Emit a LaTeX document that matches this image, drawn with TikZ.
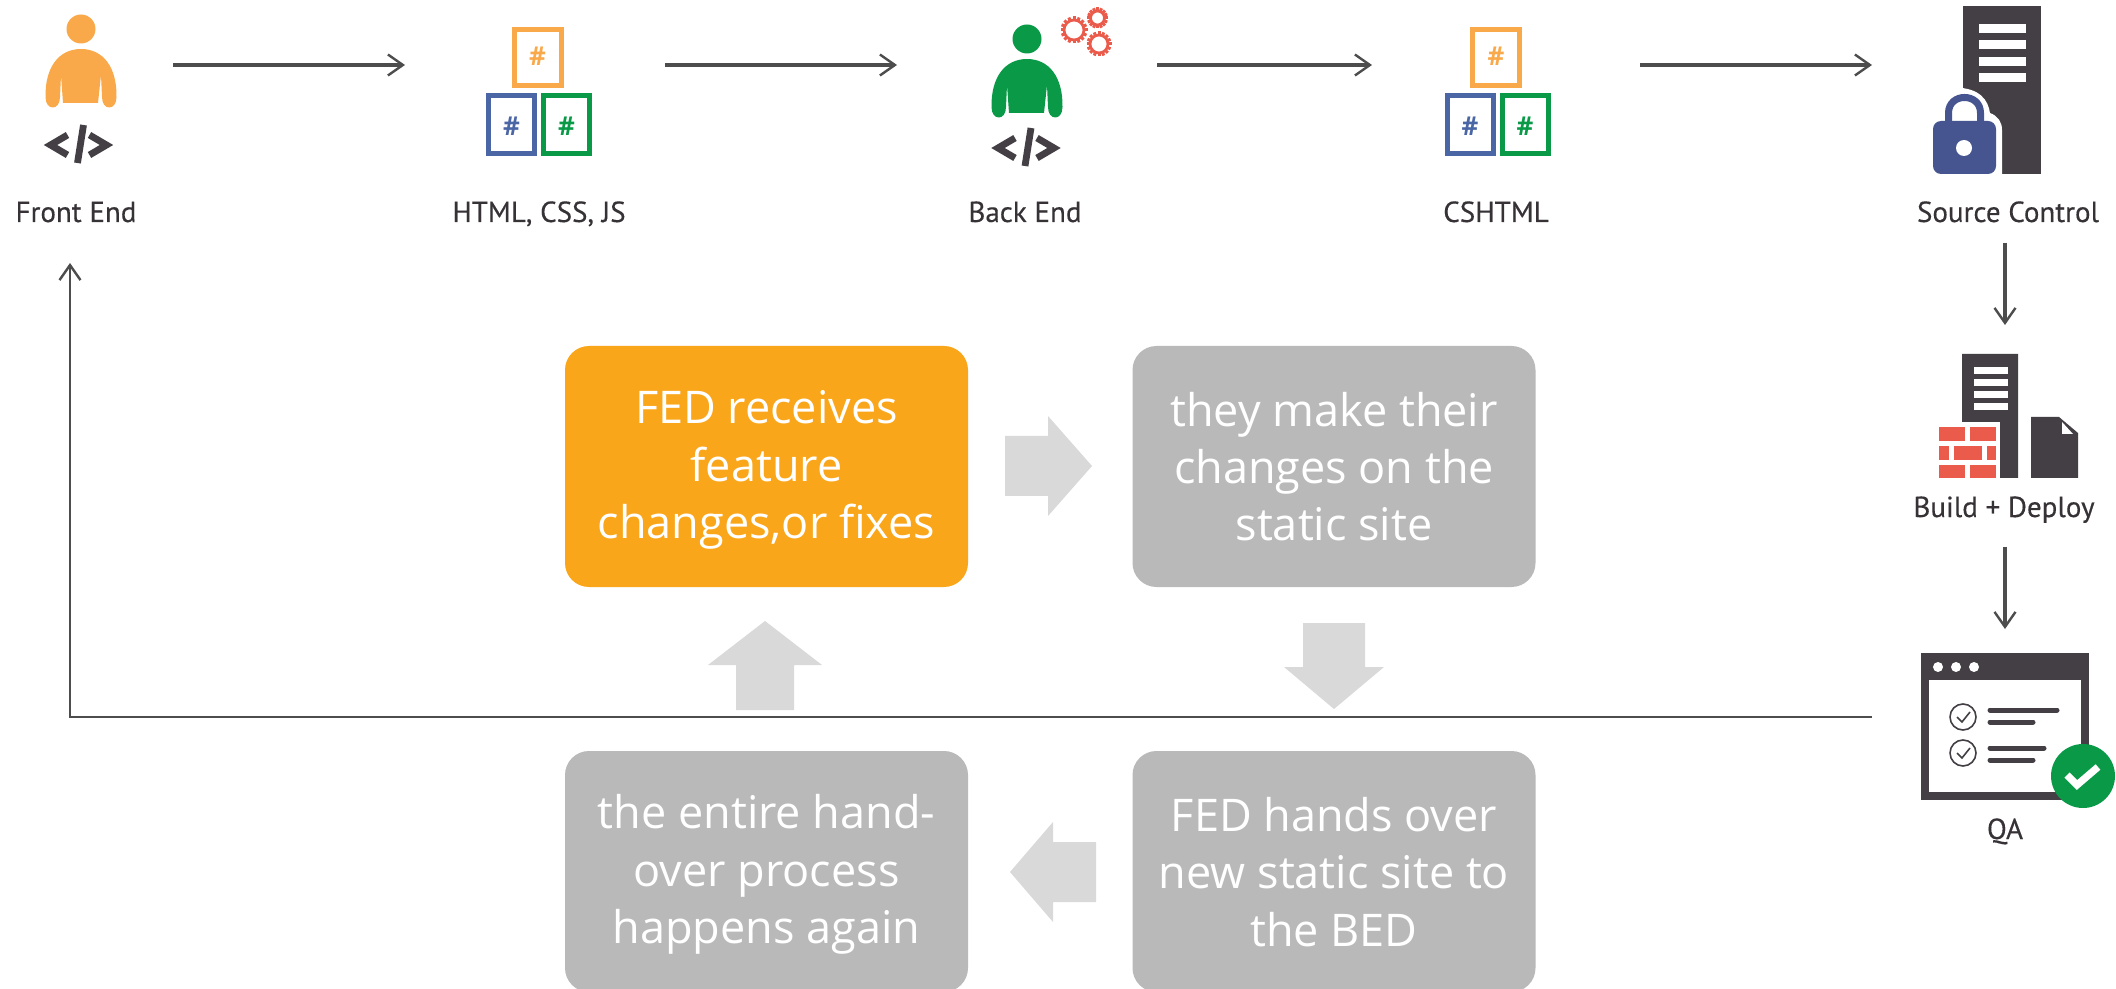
\documentclass[tikz,border=0pt]{standalone}
\usepackage{fontspec}
\setmainfont{Open Sans}
\newfontfamily\labelfont[FakeBold=0.3]{PT Sans}
\usetikzlibrary{arrows.meta}
\newcommand{\stepstrut}{\rule[-3pt]{0pt}{23pt}}
\definecolor{icdark}{HTML}{433F44}
\definecolor{icorange}{HTML}{F9A94A}
\definecolor{icblue}{HTML}{46558F}
\definecolor{icfile}{HTML}{4A66A5}
\definecolor{icgreen}{HTML}{0A9A47}
\definecolor{icred}{HTML}{EB5B4C}
\definecolor{boxorange}{HTML}{FAA61A}
\definecolor{boxgray}{HTML}{B9B9B9}
\definecolor{blockgray}{HTML}{D9D9D9}
\definecolor{flowgray}{HTML}{4D4D4D}
\tikzset{
  flow/.style={draw=flowgray,line width=1.6pt,-{Straight Barb[length=7.5pt,width=10.5pt,line width=1.2pt]}},
  stepbox/.style={rounded corners=12pt,minimum width=201.5pt,minimum height=120.5pt,inner sep=0pt,
    text=white,align=center,font=\fontsize{22.5}{28.75}\selectfont},
  iconlabel/.style={font=\labelfont\fontsize{14.5}{17}\selectfont,text=icdark!80!black,anchor=base,inner sep=0pt},
  blockarrow/.style={fill=blockgray,draw=none},
  hashmark/.style={font=\bfseries\fontsize{13}{14}\selectfont,inner sep=0pt},
  pics/personicon/.style={code={
    \fill[#1] (0,0) ellipse [x radius=14.5,y radius=14.5];
    \fill[#1] (-35.5,68) .. controls (-36,38) and (-22,20) .. (0,20)
      .. controls (22,20) and (36,38) .. (35.5,68)
      .. controls (35.5,82) and (21,82) .. (21,68) -- (20,46) -- (17,74) -- (-18,74) -- (-20,46) -- (-21,68)
      .. controls (-21,82) and (-35.5,82) .. (-35.5,68) -- cycle;
  }},
  pics/codeicon/.style={code={
    \draw[icdark,line width=3.4pt] (-11,-10) -- (-28,0) -- (-11,10);
    \draw[icdark,line width=3.4pt] (11,-10) -- (28,0) -- (11,10);
    \draw[icdark,line width=3.4pt] (-1,18) -- (5,-20);
  }},
  pics/trioicon/.style={code={
    \draw[icorange,line width=2.5pt] (-23.5,2.5) rectangle (23.5,58.5);
    \draw[icfile,line width=2.5pt] (-49,68.5) rectangle (-3,126.5);
    \draw[icgreen,line width=2.5pt] (6,68.5) rectangle (52,126.5);
    \node[hashmark,text=icorange] (top) at (0,29) {\#};
    \node[hashmark,text=icfile] (left) at (-26,99) {\#};
    \node[hashmark,text=icgreen] (right) at (29,99) {\#};
  }},
  pics/gearicon/.style={code={
    \draw[icred,line width=1.4pt] (0,0) circle [radius=#1-3.5];
    \foreach \a in {0,45,...,315}
      \draw[icred,line width=1.5pt] (\a:#1-3) -- (\a:#1);
    \foreach \a in {22.5,67.5,...,337.5}
      \draw[icred,line width=1.5pt] (\a:#1-3) -- (\a:#1);
  }}
}
\begin{document}
\begin{tikzpicture}[x=0.5pt,y=-0.5pt]
\useasboundingbox (0,0) rectangle (2116,989);
\clip (0,0) rectangle (2116,989);
\fill[white] (0,0) rectangle (2116,989);

% --- people
\pic at (81,29) {personicon=icorange};
\pic at (78.5,145) {codeicon};
\pic at (1027,39) {personicon=icgreen};
\pic at (1026,148) {codeicon};
\pic at (1074,30) {gearicon=13.5};
\pic at (1097.5,18) {gearicon=10.5};
\pic at (1099,44) {gearicon=12.5};

% --- file trios
\pic (html) at (537.5,27) {trioicon};
\pic (cshtml) at (1496,27) {trioicon};

% --- source control
\fill[icdark] (1963,6) rectangle (2041,174);
\foreach \yy in {24,40,57,73}
  \fill[white] (1979,\yy) rectangle (2026,\yy+9);
\fill[white] (1955,176) -- (1955,87.5) .. controls (1980,88) and (1988,100) .. (1990,113)
  .. controls (1998,116) and (2002,122) .. (2002,130) -- (2002,176) -- cycle;
\draw[icblue,line width=3.5pt] (1948.5,125) -- (1948.5,113) .. controls (1948.5,92.3) and (1980.5,92.3) .. (1980.5,113) -- (1980.5,125);
\fill[icblue,rounded corners=4pt] (1933,121) rectangle (1996,174);
\fill[white] (1964,148) circle [radius=8];

% --- build + deploy
\fill[icdark] (1962,354) -- (2018,354) -- (2018,478) -- (2000,478) -- (2000,422) -- (1962,422) -- cycle;
\foreach \yy in {367,379,391,403}
  \fill[white] (1974,\yy) rectangle (2008,\yy+7);
\foreach \xa/\xb/\ya/\yb in {1939/1965/427/441,1970/1996/427/441,1939/1949/446/460,1954/1982/446/460,1987/1996/446/460,1939/1965/465/478,1970/1996/465/478}
  \fill[icred] (\xa,\ya) rectangle (\xb,\yb);
\fill[icdark] (2031,417) -- (2059,417) -- (2078,433) -- (2078,478) -- (2031,478) -- cycle;
\fill[white] (2062,422) -- (2062,434) -- (2073,434) -- cycle;

% --- QA window
\fill[icdark] (1921,653) rectangle (2089,800);
\fill[white] (1929,680) rectangle (2081,792);
\foreach \xx in {1938,1956,1974}
  \fill[white] (\xx,667) circle [radius=5];
\foreach \yy in {717,753}{
  \draw[icdark,line width=0.8pt] (1963,\yy) circle [radius=13];
  \draw[icdark,line width=0.8pt] (1957,\yy) -- (1962,\yy+5) -- (1970,\yy-5);
}
\foreach \xb/\yy in {2057/710,2033/722,2044/748,2033/760}
  \draw[icdark,line width=2.5pt,line cap=round] (1990,\yy) -- (\xb,\yy);
\fill[icgreen] (2083,776) circle [radius=32];
\draw[white,line width=3.6pt] (2067,775) -- (2077,785) -- (2098,767);

% --- icon labels
\node[iconlabel] (frontend) at (76,222) {Front End};
\node[iconlabel] (htmlcss) at (539,222) {HTML, CSS, JS};
\node[iconlabel] (backend) at (1025,222) {Back End};
\node[iconlabel] (cshtmllabel) at (1496,222) {CSHTML};
\node[iconlabel] (source) at (2008,222) {Source Control};
\node[iconlabel] (build) at (2004,517) {Build + Deploy};
\node[iconlabel] (qa) at (2005,839) {QA};

% --- flow connectors
\coordinate (fe-out) at (173,65);   \coordinate (html-in) at (405,65);
\coordinate (html-out) at (665,65); \coordinate (be-in) at (897,65);
\coordinate (be-out) at (1157,65);  \coordinate (cs-in) at (1372,65);
\coordinate (cs-out) at (1640,65);  \coordinate (sc-in) at (1872,65);
\coordinate (sc-out) at (2005,243); \coordinate (bd-in) at (2005,325);
\coordinate (bd-out) at (2005,547); \coordinate (qa-in) at (2005,629);
\coordinate (qa-out) at (1872,717); \coordinate (corner) at (70,717);
\coordinate (fe-in) at (70,263);
\draw[flow] (fe-out) -- (html-in);
\draw[flow] (html-out) -- (be-in);
\draw[flow] (be-out) -- (cs-in);
\draw[flow] (cs-out) -- (sc-in);
\draw[flow] (sc-out) -- (bd-in);
\draw[flow] (bd-out) -- (qa-in);
\draw[flow,line width=1.3pt] (qa-out) -- (corner) -- (fe-in);

% --- process boxes
\node[stepbox,fill=boxorange] (s1) at (766.5,466.5) {\stepstrut FED receives\\feature\\\stepstrut changes,or fixes};
\node[stepbox,fill=boxgray] (s2) at (1334,466.5) {\stepstrut they make their\\changes on the\\\stepstrut static site};
\node[stepbox,fill=boxgray] (s3) at (1334,871.5) {\stepstrut FED hands over\\new static site to\\\stepstrut the BED};
\node[stepbox,fill=boxgray] (s4) at (766.5,871.5) {\stepstrut the entire hand-\\over process\\\stepstrut happens again};

% --- block arrows
\fill[blockarrow] (1005,436) -- (1048,436) -- (1048,416) -- (1092,466) -- (1048,516) -- (1048,496) -- (1005,496) -- cycle;
\fill[blockarrow] (1303,623) -- (1365,623) -- (1365,667) -- (1384,667) -- (1334,709) -- (1284,667) -- (1303,667) -- cycle;
\fill[blockarrow] (1096,842) -- (1053,842) -- (1053,822) -- (1010,872) -- (1053,922) -- (1053,902) -- (1096,902) -- cycle;
\fill[blockarrow] (736,710) -- (794,710) -- (794,665) -- (822,665) -- (765,621) -- (708,665) -- (736,665) -- cycle;
\end{tikzpicture}
\end{document}
